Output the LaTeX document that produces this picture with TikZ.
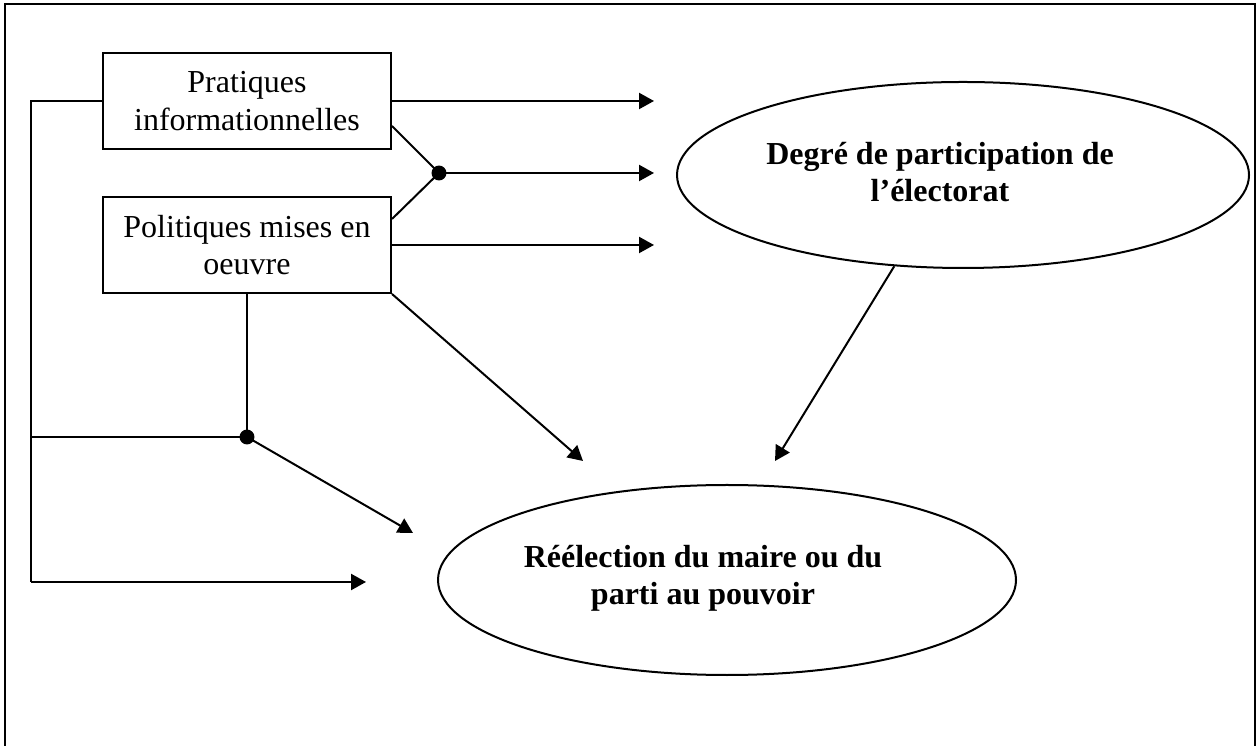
\documentclass[tikz,border=0pt]{standalone}
\usepackage{fontspec}
\setmainfont{Liberation Serif}
\usetikzlibrary{arrows.meta,shapes.geometric,calc}
\begin{document}
\begin{tikzpicture}[x=0.375pt,y=-0.375pt,
  line width=0.75pt,
  boxnode/.style={draw,rectangle,minimum width=108pt,minimum height=36pt,inner sep=0pt,align=center,font=\fontsize{12}{14.2}\selectfont},
  ovalnode/.style={draw,ellipse,inner sep=0pt},
  ovaltext/.style={align=center,font=\fontsize{12}{14}\selectfont\bfseries,inner sep=0pt},
  conn/.style={-{Triangle[length=5.6pt,width=6pt]}},
  junction/.style={circle,fill=black,inner sep=0pt,minimum size=5.6pt}]
\useasboundingbox (0,0) rectangle (1257,746);
\draw (5,760) -- (5,4) -- (1255,4) -- (1255,760);

\node[boxnode] (p1) at (247,101) {Pratiques\\informationnelles};
\node[boxnode] (p2) at (247,245) {Politiques mises en\\oeuvre};

\node[ovalnode,minimum width=214.5pt,minimum height=69.75pt] (e1) at (963,175) {};
\node[ovaltext] (t1) at (940,172) {Degré de participation de\\l’électorat};
\node[ovalnode,minimum width=216.75pt,minimum height=71.25pt] (e2) at (727,580) {};
\node[ovaltext] (t2) at (703,578) {Réélection du maire ou du\\parti au pouvoir};

\node[junction] (d1) at (439,173) {};
\node[junction] (d2) at (247,437) {};

\coordinate (a1) at (654,101);
\coordinate (a2) at (654,173);
\coordinate (a3) at (654,245);
\coordinate (a4) at (583,461);
\coordinate (a5) at (775,461);
\coordinate (a6) at (413,533);
\coordinate (a7) at (366,582);
\coordinate (c1) at (31,101);
\coordinate (c2) at (31,582);
\coordinate (c3) at (31,437);

\draw[conn] (p1.east) -- (a1);
\draw ($(p1.south east)+(0,-24)$) -- (d1.center);
\draw ($(p2.north east)+(0,23)$) -- (d1.center);
\draw[conn] (d1.center) -- (a2);
\draw[conn] (p2.east) -- (a3);
\draw[conn] (p2.south east) -- (a4);
\draw[conn] (e1.233) -- (a5);

\draw (p1.west) -- (c1) -- (c2);
\draw[conn] (c2) -- (a7);
\draw (c3) -- (d2.center);
\draw (p2.south) -- (d2.center);
\draw[conn] (d2.center) -- (a6);
\end{tikzpicture}
\end{document}
